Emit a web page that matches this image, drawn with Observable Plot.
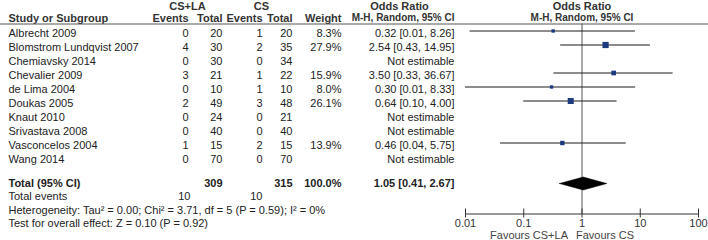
<!DOCTYPE html>
<html>
<head>
<meta charset="utf-8">
<script src="https://cdn.jsdelivr.net/npm/d3@7"></script>
<script src="https://cdn.jsdelivr.net/npm/@observablehq/plot@0.6"></script>
<style>
  html, body { margin: 0; padding: 0; background: white; }
  #chart { width: 708px; height: 240px; }
</style>
</head>
<body>
<div id="chart"></div>
<script>
// ---- data ----
const studyNames = ["Albrecht 2009", "Blomstrom Lundqvist 2007", "Chemiavsky 2014", "Chevalier 2009", "de Lima 2004", "Doukas 2005", "Knaut 2010", "Srivastava 2008", "Vasconcelos 2004", "Wang 2014"];
const eventsLA = [0, 4, 0, 3, 0, 2, 0, 0, 1, 0];
const totalLA = [20, 30, 30, 21, 10, 49, 24, 40, 15, 70];
const eventsCS = [1, 2, 0, 1, 1, 3, 0, 0, 2, 0];
const totalCS = [20, 35, 34, 22, 10, 48, 21, 40, 15, 70];
const weights = [8.3, 27.9, null, 15.9, 8.0, 26.1, null, null, 13.9, null];
const oddsRatio = [0.32, 2.54, null, 3.50, 0.30, 0.64, null, null, 0.46, null];
const ciLow = [0.012, 0.43, null, 0.33, 0.01, 0.10, null, null, 0.04, null];
const ciHigh = [8.26, 14.95, null, 36.67, 8.33, 4.00, null, null, 5.75, null];

const pooled = {or: 1.05, lo: 0.41, hi: 2.67, totalLA: 309, totalCS: 315, eventsLA: 10, eventsCS: 10, weight: 100.0};
const heterogeneityText = "Heterogeneity: Tau\u00B2 = 0.00; Chi\u00B2 = 3.71, df = 5 (P = 0.59); I\u00B2 = 0%";
const overallText = "Test for overall effect: Z = 0.10 (P = 0.92)";
const axisTicks = [0.01, 0.1, 1, 10, 100];
const axisTickLabels = ["0.01", "0.1", "1", "10", "100"];
const favoursLeft = "Favours CS+LA";
const favoursRight = "Favours CS";

// ---- layout ----
const rowY = i => 33 + 14 * i;
const yHead1 = 5.5, yHead2 = 17.5, yRule = 23.5;
const yTotal = 183, yTotEv = 196, yHet = 209.5, yTest = 223;
const yAxis = 213.5, yTickLab = 223, yFav = 235;
const col = {name: 8, eLA: 188, nLA: 222, eCS: 262, nCS: 292, w: 341, or: 454};
const ink = "#222";

const rows = studyNames.map((name, i) => ({
  name, i,
  y: rowY(i),
  eLA: eventsLA[i], nLA: totalLA[i], eCS: eventsCS[i], nCS: totalCS[i],
  w: weights[i], or: oddsRatio[i], lo: ciLow[i], hi: ciHigh[i],
  wText: weights[i] == null ? "" : weights[i].toFixed(1) + "%",
  orText: oddsRatio[i] == null ? "Not estimable" :
    `${oddsRatio[i].toFixed(2)} [${ciLow[i].toFixed(2)}, ${ciHigh[i].toFixed(2)}]`
}));
const est = rows.filter(d => d.or != null);
const diamond = [
  {x: pooled.lo, y: yTotal},
  {x: pooled.or, y: yTotal - 6.5},
  {x: pooled.hi, y: yTotal},
  {x: pooled.or, y: yTotal + 6.5},
  {x: pooled.lo, y: yTotal}
];

const colText = (data, key, dx, anchor, extra = {}) =>
  Plot.text(data, {y: "y", text: key, frameAnchor: "left", dx, textAnchor: anchor, fill: ink, ...extra});

const hdr = (label, y, dx, anchor, extra = {}) =>
  Plot.text([label], {y: () => y, text: d => d, frameAnchor: "left", dx, textAnchor: anchor, fontWeight: "bold", fill: "#333", ...extra});

const totalRow = [{y: yTotal, name: "Total (95% CI)", nLA: String(pooled.totalLA), nCS: String(pooled.totalCS),
  w: pooled.weight.toFixed(1) + "%", or: `${pooled.or.toFixed(2)} [${pooled.lo.toFixed(2)}, ${pooled.hi.toFixed(2)}]`}];
const evRow = [{y: yTotEv, name: "Total events", eLA: String(pooled.eventsLA), eCS: String(pooled.eventsCS)}];
const notes = [{y: yHet, t: heterogeneityText}, {y: yTest, t: overallText}];

const chart = Plot.plot({
  width: 708,
  height: 240,
  margin: 0,
  x: {type: "log", domain: [0.01, 100], range: [465, 698], axis: null},
  y: {type: "identity", axis: null},
  r: {type: "sqrt", domain: [0, 27.9], range: [0, 3.5]},
  style: {fontFamily: "'Liberation Sans', Arial, sans-serif", fontSize: "11px", background: "white", color: ink},
  marks: [
    // headers
    hdr("CS+LA", yHead1, 187, "middle"),
    hdr("CS", yHead1, 261, "middle"),
    hdr("Odds Ratio", yHead1, 399, "middle"),
    Plot.text(["Odds Ratio"], {x: () => 1, y: () => yHead1, text: d => d, fontWeight: "bold", fill: "#333"}),
    hdr("Study or Subgroup", yHead2, col.name, "start"),
    hdr("Events", yHead2, col.eLA, "end"),
    hdr("Total", yHead2, col.nLA, "end"),
    hdr("Events", yHead2, col.eCS, "end"),
    hdr("Total", yHead2, col.nCS, "end"),
    hdr("Weight", yHead2, col.w, "end"),
    hdr("M-H, Random, 95% CI", yHead2, col.or, "end", {fontSize: 10}),
    Plot.text(["M-H, Random, 95% CI"], {x: () => 1, y: () => yHead2, text: d => d, fontWeight: "bold", fontSize: 10, fill: "#333"}),
    Plot.ruleY([yRule], {y: d => d, stroke: "#555"}),

    // study rows
    colText(rows, "name", col.name, "start"),
    colText(rows, "eLA", col.eLA, "end"),
    colText(rows, "nLA", col.nLA, "end"),
    colText(rows, "eCS", col.eCS, "end"),
    colText(rows, "nCS", col.nCS, "end"),
    colText(rows, "wText", col.w, "end"),
    colText(rows, "orText", col.or, "end"),

    // total rows
    colText(totalRow, "name", col.name, "start", {fontWeight: "bold"}),
    colText(totalRow, "nLA", col.nLA, "end", {fontWeight: "bold"}),
    colText(totalRow, "nCS", col.nCS, "end", {fontWeight: "bold"}),
    colText(totalRow, "w", col.w, "end", {fontWeight: "bold"}),
    colText(totalRow, "or", col.or, "end", {fontWeight: "bold"}),
    colText(evRow, "name", col.name, "start"),
    colText(evRow, "eLA", col.eLA + 2, "end"),
    colText(evRow, "eCS", col.eCS, "end"),
    colText(notes, "t", col.name, "start"),

    // forest
    Plot.ruleX([1], {x: d => d, y1: yRule, y2: yAxis, stroke: "#555"}),
    Plot.ruleY(est, {x1: "lo", x2: "hi", y: d => d.y - 2.5, stroke: "#1a1a1a"}),
    Plot.dot(est, {x: "or", y: d => d.y - 2.5, r: "w", symbol: "square", fill: "#1c3a80", stroke: null}),
    Plot.line(diamond, {x: "x", y: "y", fill: "black", stroke: "black", strokeWidth: 0.5, curve: "linear"}),

    // axis
    Plot.ruleY([yAxis], {y: d => d, x1: () => 0.01, x2: () => 100, stroke: "#333"}),
    Plot.ruleX(axisTicks, {x: d => d, y1: yAxis - 5, y2: yAxis + 4, stroke: "#333"}),
    Plot.text(axisTicks, {x: d => d, y: () => yTickLab, text: (d, i) => axisTickLabels[i], fill: "#333"}),
    Plot.text([favoursLeft], {x: () => 1, y: () => yFav, text: d => d, dx: -14, textAnchor: "end", fill: "#444"}),
    Plot.text([favoursRight], {x: () => 1, y: () => yFav, text: d => d, dx: -6, textAnchor: "start", fill: "#444"})
  ]
});
document.getElementById("chart").appendChild(chart);
</script>
</body>
</html>
